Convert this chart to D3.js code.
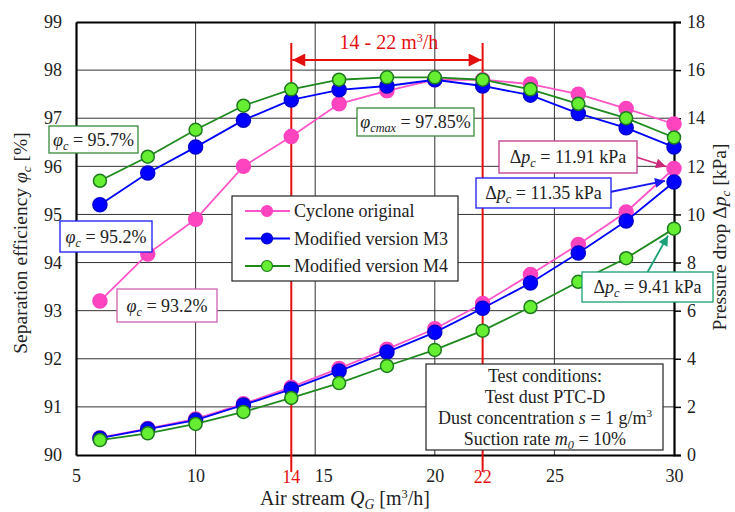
<!DOCTYPE html>
<html>
<head>
<meta charset="utf-8">
<script src="https://cdn.jsdelivr.net/npm/d3@7"></script>
<style>
	body { margin: 0; background: #fff; }
	text { font-family: 'Liberation Serif', 'Times New Roman', Times, serif; }
</style>
</head>
<body>
<svg id="chart" width="735" height="512"></svg>
<script>
// air stream Q_G [m3/h]
const flow = [6, 8, 10, 12, 14, 16, 18, 20, 22, 24, 26, 28, 30];
// separation efficiency [%]
const effOriginal = [93.2, 94.18, 94.9, 96.0, 96.62, 97.3, 97.57, 97.8, 97.8, 97.71, 97.5, 97.2, 96.88];
const effM3 = [95.2, 95.86, 96.4, 96.96, 97.38, 97.59, 97.67, 97.8, 97.67, 97.48, 97.1, 96.8, 96.4];
const effM4 = [95.7, 96.2, 96.76, 97.26, 97.6, 97.8, 97.85, 97.85, 97.8, 97.6, 97.3, 97.0, 96.6];
// pressure drop [kPa]
const dpOriginal = [0.72, 1.1, 1.5, 2.13, 2.82, 3.6, 4.4, 5.25, 6.3, 7.5, 8.75, 10.1, 11.91];
const dpM3 = [0.7, 1.08, 1.45, 2.08, 2.74, 3.49, 4.28, 5.1, 6.1, 7.15, 8.4, 9.73, 11.35];
const dpM4 = [0.62, 0.9, 1.29, 1.79, 2.37, 2.99, 3.7, 4.37, 5.17, 6.15, 7.2, 8.18, 9.41];

const xTicks = [5, 10, 15, 20, 25, 30];
const effTicks = [90, 91, 92, 93, 94, 95, 96, 97, 98, 99];
const dpTicks = [0, 2, 4, 6, 8, 10, 12, 14, 16, 18];
const rangeTicks = [14, 22];
const seriesNames = ["Cyclone original", "Modified version M3", "Modified version M4"];

const FONT = "'Liberation Serif', 'Times New Roman', Times, serif";
const svg = d3.select("#chart");
const x = d3.scaleLinear([5, 30], [76, 674]);
const yL = d3.scaleLinear([90, 99], [455, 22]);
const yR = d3.scaleLinear([0, 18], [455, 22]);

const styles = [
	{ line: "#ff55c8", fill: "#ff44c0", stroke: "#ff44c0", r: 7 },
	{ line: "#0000ff", fill: "#0000ff", stroke: "#0000d0", r: 7 },
	{ line: "#1e8a1e", fill: "#66ee33", stroke: "#1e7a1e", r: 6.5 }
];

// grid
svg.append("g").selectAll("line").data(effTicks.slice(1, -1)).join("line")
	.attr("x1", x(5)).attr("x2", x(30))
	.attr("y1", d => yL(d)).attr("y2", d => yL(d))
	.attr("stroke", "#333").attr("stroke-width", 1);
svg.append("g").selectAll("line").data(xTicks.slice(1, -1)).join("line")
	.attr("x1", d => x(d)).attr("x2", d => x(d))
	.attr("y1", yL(99)).attr("y2", yL(90))
	.attr("stroke", "#333").attr("stroke-width", 1);

// axes
const axL = svg.append("g").attr("transform", `translate(${x(5)},0)`)
	.call(d3.axisLeft(yL).tickValues(effTicks).tickSize(0).tickPadding(14));
const axR = svg.append("g").attr("transform", `translate(${x(30)},0)`)
	.call(d3.axisRight(yR).tickValues(dpTicks).tickSize(7).tickPadding(6));
const axB = svg.append("g").attr("transform", `translate(0,${yL(90)})`)
	.call(d3.axisBottom(x).tickValues(xTicks).tickSize(0).tickPadding(14));
const axT = svg.append("g").attr("transform", `translate(0,${yL(99)})`)
	.call(d3.axisTop(x).tickValues([]).tickSize(0));
[axL, axR, axB, axT].forEach(g => {
	g.attr("font-family", FONT);
	g.select(".domain").attr("stroke", "#000").attr("stroke-width", 2.2);
	g.selectAll(".tick line").attr("stroke", "#000").attr("stroke-width", 1.5);
	g.selectAll("text").attr("font-family", FONT).attr("font-size", 18).attr("fill", "#222");
});
axB.selectAll(".tick text").filter(d => d === 15).attr("dx", 8);

// red range lines
svg.append("g").selectAll("line").data(rangeTicks).join("line")
	.attr("x1", d => x(d)).attr("x2", d => x(d))
	.attr("y1", 43).attr("y2", 472)
	.attr("stroke", "#e41010").attr("stroke-width", 2);
svg.append("g").selectAll("text").data(rangeTicks).join("text")
	.attr("x", d => x(d)).attr("y", 483).attr("text-anchor", "middle")
	.attr("font-family", FONT).attr("font-size", 18).attr("fill", "#e41010").text(d => d);

const defs = svg.append("defs");
function marker(id, color, w, h) {
	defs.append("marker").attr("id", id).attr("viewBox", "0 0 10 10")
		.attr("refX", 10).attr("refY", 5).attr("markerWidth", w).attr("markerHeight", h)
		.attr("markerUnits", "userSpaceOnUse").attr("orient", "auto-start-reverse")
		.append("path").attr("d", "M0,0 L10,5 L0,10 Z").attr("fill", color);
}
marker("arRed", "#e41010", 17, 13);
marker("arPink", "#cc2a7a", 16, 10);
marker("arBlue", "#1a1aee", 16, 10);
marker("arGreen", "#1aa074", 16, 10);

svg.append("line")
	.attr("x1", x(14) + 1).attr("x2", x(22) - 1).attr("y1", 60).attr("y2", 60)
	.attr("stroke", "#e41010").attr("stroke-width", 2)
	.attr("marker-start", "url(#arRed)").attr("marker-end", "url(#arRed)");
svg.append("text").attr("x", (x(14) + x(22)) / 2 + 2).attr("y", 49).attr("text-anchor", "middle")
	.attr("font-family", FONT).attr("font-size", 20).attr("fill", "#e41010")
	.call(t => {
		t.append("tspan").text("14 - 22 m");
		t.append("tspan").attr("font-size", 12).attr("dy", -7).text("3");
		t.append("tspan").attr("dy", 7).text("/h");
	});

// series
const effSeries = [effOriginal, effM3, effM4];
const dpSeries = [dpOriginal, dpM3, dpM4];
const line = d3.line();
[0, 1, 2].forEach(k => {
	const st = styles[k];
	[[effSeries[k], yL], [dpSeries[k], yR]].forEach(([vals, y]) => {
		const pts = flow.map((f, i) => [x(f), y(vals[i])]);
		svg.append("path").attr("d", line(pts)).attr("fill", "none")
			.attr("stroke", st.line).attr("stroke-width", 1.8);
		svg.append("g").selectAll("circle").data(pts).join("circle")
			.attr("cx", d => d[0]).attr("cy", d => d[1]).attr("r", st.r)
			.attr("fill", st.fill).attr("stroke", st.stroke).attr("stroke-width", 1.5);
	});
});

// text helpers
function rich(sel, parts, size) {
	parts.forEach(p => {
		const ts = sel.append("tspan").text(p.t);
		if (p.i) ts.attr("font-style", "italic");
		if (p.sub) ts.attr("font-size", size * 0.68).attr("dy", 4);
		if (p.back) ts.attr("dy", -4);
		if (p.sup) ts.attr("font-size", size * 0.62).attr("dy", -7);
		if (p.down) ts.attr("dy", 7);
	});
}
function box(x0, y0, w, h, color, parts, size = 18) {
	svg.append("rect").attr("x", x0).attr("y", y0).attr("width", w).attr("height", h)
		.attr("fill", "#fff").attr("stroke", color).attr("stroke-width", 1.3);
	const t = svg.append("text").attr("x", x0 + w / 2).attr("y", y0 + h / 2 + 6)
		.attr("text-anchor", "middle").attr("font-family", FONT).attr("font-size", size).attr("fill", "#222");
	rich(t, parts, size);
}
const phi = v => [{ t: "φ", i: true }, { t: "c", i: true, sub: true }, { t: " = " + v, back: true }];
const dp = v => [{ t: "Δ" }, { t: "p", i: true }, { t: "c", i: true, sub: true }, { t: " = " + v, back: true }];

// pressure arrows
function arrow(x1, y1, x2, y2, color, id) {
	svg.append("line").attr("x1", x1).attr("y1", y1).attr("x2", x2).attr("y2", y2)
		.attr("stroke", color).attr("stroke-width", 1.8).attr("marker-end", `url(#${id})`);
}
arrow(636, 157, x(30) - 8, yR(dpOriginal[12]) - 2, "#cc2a7a", "arPink");
arrow(610, 192, x(30) - 9, yR(dpM3[12]) - 1, "#1a1aee", "arBlue");
arrow(647, 273, x(30) - 6, yR(dpM4[12]) + 7, "#1aa074", "arGreen");

box(49, 126, 89, 27, "#3a8a3a", phi("95.7%"));
box(60, 221, 92, 31, "#1a1aee", phi("95.2%"));
box(117, 289, 100, 33, "#d060b0", phi("93.2%"));
box(357, 108, 117, 28, "#3a8a3a", [{ t: "φ", i: true }, { t: "cmax", i: true, sub: true }, { t: " = 97.85%", back: true }]);
box(499, 141, 138, 32, "#c03a8a", dp("11.91 kPa"));
box(476, 178, 135, 30, "#1a1aee", dp("11.35 kPa"));
box(582, 272, 131, 30, "#1aa074", dp("9.41 kPa"));

// legend
const lg = svg.append("g");
lg.append("rect").attr("x", 232).attr("y", 196).attr("width", 226).attr("height", 85)
	.attr("fill", "#fff").attr("stroke", "#222").attr("stroke-width", 1.2);
seriesNames.forEach((name, k) => {
	const yy = 211 + k * 27.5;
	const st = styles[k];
	lg.append("line").attr("x1", 245).attr("x2", 290).attr("y1", yy).attr("y2", yy)
		.attr("stroke", st.line).attr("stroke-width", 1.8);
	lg.append("circle").attr("cx", 267).attr("cy", yy).attr("r", 5.5)
		.attr("fill", st.fill).attr("stroke", st.stroke).attr("stroke-width", 1.2);
	lg.append("text").attr("x", 294).attr("y", yy + 6).attr("font-family", FONT)
		.attr("font-size", 18).attr("fill", "#222").text(name);
});

// test conditions
const tc = svg.append("g");
tc.append("rect").attr("x", 426).attr("y", 364).attr("width", 237).attr("height", 86)
	.attr("fill", "#fff").attr("stroke", "#222").attr("stroke-width", 1.2);
const tcLines = [
	[{ t: "Test conditions:" }],
	[{ t: "Test dust PTC-D" }],
	[{ t: "Dust concentration " }, { t: "s", i: true }, { t: " = 1 g/m" }, { t: "3", sup: true }],
	[{ t: "Suction rate " }, { t: "m", i: true }, { t: "0", i: true, sub: true }, { t: " = 10%", back: true }]
];
tcLines.forEach((parts, k) => {
	const t = tc.append("text").attr("x", 545).attr("y", 382 + k * 21).attr("text-anchor", "middle")
		.attr("font-family", FONT).attr("font-size", 18).attr("fill", "#222");
	rich(t, parts, 18);
});

// axis titles
svg.append("text").attr("x", 345).attr("y", 505).attr("text-anchor", "middle")
	.attr("font-family", FONT).attr("font-size", 20).attr("fill", "#222")
	.call(t => rich(t, [{ t: "Air stream " }, { t: "Q", i: true }, { t: "G", i: true, sub: true },
		{ t: " [m", back: true }, { t: "3", sup: true }, { t: "/h]", down: true }], 20));
svg.append("text").attr("transform", "translate(27,243) rotate(-90)").attr("text-anchor", "middle")
	.attr("font-family", FONT).attr("font-size", 19.5).attr("fill", "#222")
	.call(t => rich(t, [{ t: "Separation efficiency " }, { t: "φ", i: true }, { t: "c", i: true, sub: true }, { t: " [%]", back: true }], 19.5));
svg.append("text").attr("transform", "translate(726,237) rotate(-90)").attr("text-anchor", "middle")
	.attr("font-family", FONT).attr("font-size", 19.5).attr("fill", "#222")
	.call(t => rich(t, [{ t: "Pressure drop Δ" }, { t: "p", i: true }, { t: "c", i: true, sub: true }, { t: " [kPa]", back: true }], 19.5));
</script>
</body>
</html>
